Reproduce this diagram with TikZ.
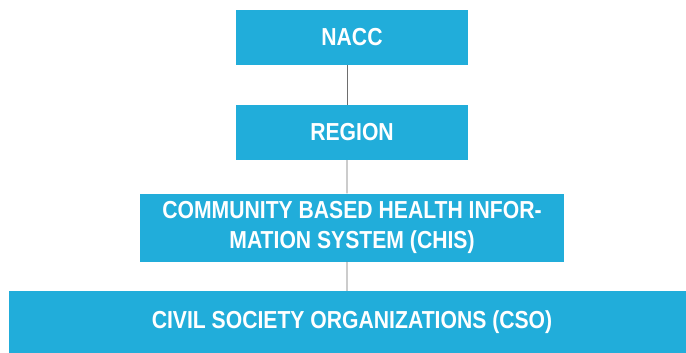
\documentclass[tikz,border=0pt]{standalone}
\usepackage{fontspec}
\setmainfont{Liberation Sans}[FakeStretch=0.86]
\usepackage{tikz}
\definecolor{unitblue}{RGB}{33,173,218}
\definecolor{linkgray}{RGB}{110,110,110}

\begin{document}
\begin{tikzpicture}[x=1pt,y=1pt,
  unit/.style={fill=unitblue, text=white, inner sep=0pt, align=center,
    font=\bfseries\fontsize{24.6}{30}\selectfont, minimum height=55pt},
  ]
  \useasboundingbox (0,0) rectangle (686,-353);

  \node[unit, minimum width=232pt] (nacc) at (352,-37.5) {NACC}[
  level distance=95pt,
  edge from parent/.style={draw=linkgray, line width=0.9pt},
  edge from parent path={([xshift=-5pt]\tikzparentnode.south) -- ([xshift=-5pt]\tikzchildnode.north)},
  ]
  child {
    node[unit, minimum width=232pt] (region) {REGION}
    child {
      node[unit, minimum width=424pt, minimum height=68pt] (chis)
        {COMMUNITY BASED HEALTH INFOR-\\MATION SYSTEM (CHIS)}
      child {node[unit, minimum width=686pt, minimum height=63pt] (cso)
        {CIVIL SOCIETY ORGANIZATIONS (CSO)}}
    }
  };
\end{tikzpicture}
\end{document}
